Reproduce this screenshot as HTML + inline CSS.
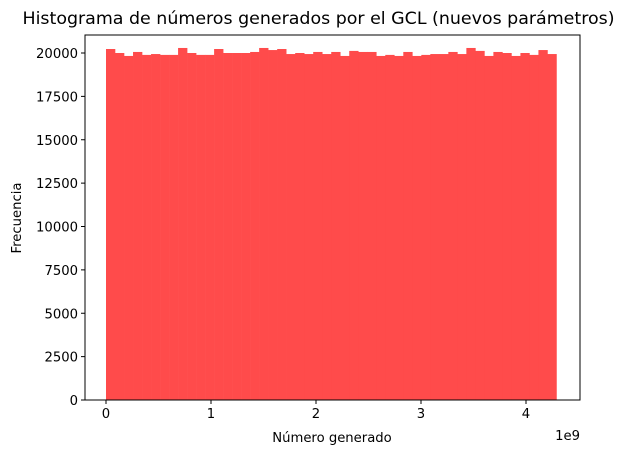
<!DOCTYPE html>
<html><head><meta charset="utf-8"><style>body{margin:0;background:#fff}svg{display:block;font-family:"DejaVu Sans","Liberation Sans",sans-serif}</style></head>
<body>
<svg id="c" width="624" height="454">
<text x="318.5" y="24" font-size="16.8" text-anchor="middle" textLength="592" lengthAdjust="spacingAndGlyphs">Histograma de números generados por el GCL (nuevos parámetros)</text>
<g id="bars"></g>
<g id="axes"></g>
<text x="332" y="442" font-size="13.2" text-anchor="middle">Número generado</text>
<text x="21" y="218" font-size="13.2" text-anchor="middle" transform="rotate(-90 21 218)">Frecuencia</text>
<text x="580" y="440" font-size="13.2" text-anchor="end">1e9</text>
</svg>
<script>
const counts=[20230,20000,19830,20060,19890,19940,19890,19890,20290,20000,19890,19890,20230,20000,20000,20000,20060,20290,20170,20230,19940,20000,19940,20060,19940,20060,19830,20120,20060,20060,19830,19890,19830,20060,19830,19890,19940,19940,20060,19940,20290,20120,19830,20060,20000,19830,20000,19890,20170,19940];
const binMin=0, binMax=4.29;
const xTicks=[0,1,2,3,4];
const yTicks=[0,2500,5000,7500,10000,12500,15000,17500,20000];
const NS="http://www.w3.org/2000/svg";
const L=85,R=580,T=35,B=400;
const x=v=>106+v*105;
const y=v=>B-v*(347/20000);
const bars=document.getElementById('bars'),axes=document.getElementById('axes');
function mk(tag,at,p){const e=document.createElementNS(NS,tag);for(const k in at)e.setAttribute(k,at[k]);p.appendChild(e);return e;}
const w=(binMax-binMin)/counts.length;
counts.forEach((c,i)=>{
 const x0=x(binMin+i*w),x1=x(binMin+(i+1)*w);
 const r=mk('rect',{x:x0,y:y(c),width:x1-x0+0.3,height:B-y(c),fill:'#ff4b4b'},bars);
 
 
});
const f=mk('rect',{x:L,y:T,width:R-L,height:B-T,fill:'none',stroke:'#000','stroke-width':1},axes);


xTicks.forEach(t=>{
 mk('line',{x1:x(t),x2:x(t),y1:B,y2:B+4,stroke:'#000'},axes);
 const tx=mk('text',{x:x(t),y:B+18,'font-size':13.2,'text-anchor':'middle'},axes);
 tx.textContent=t;
 
 
});
yTicks.forEach(t=>{
 mk('line',{x1:L-4,x2:L,y1:y(t),y2:y(t),stroke:'#000'},axes);
 const tx=mk('text',{x:L-7,y:y(t)+5,'font-size':13.2,'text-anchor':'end'},axes);
 tx.textContent=t;
 
 
});
</script>
</body></html>
